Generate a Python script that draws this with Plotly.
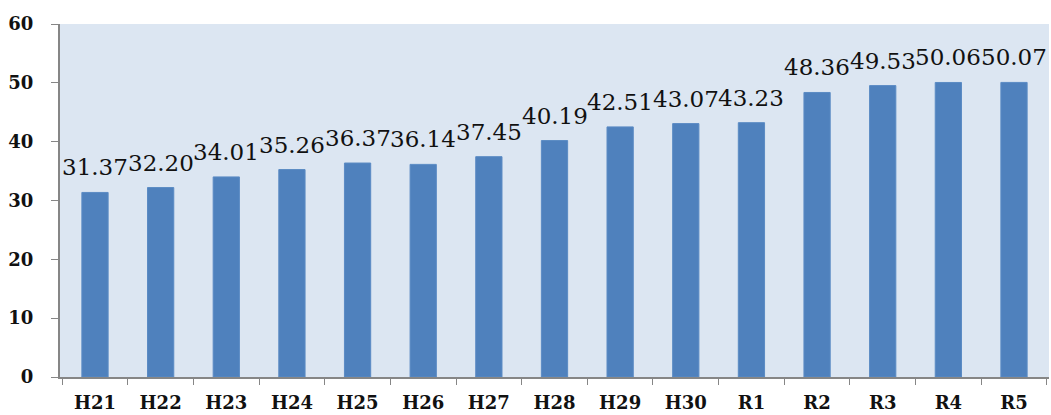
import plotly.graph_objects as go

years = ["H21", "H22", "H23", "H24", "H25", "H26", "H27", "H28", "H29", "H30",
         "R1", "R2", "R3", "R4", "R5"]
values = [31.37, 32.20, 34.01, 35.26, 36.37, 36.14, 37.45, 40.19, 42.51, 43.07,
          43.23, 48.36, 49.53, 50.06, 50.07]
labels = [f"{v:.2f}" for v in values]
y_ticks = [0, 10, 20, 30, 40, 50, 60]

serif = "DejaVu Serif, Liberation Serif, serif"

fig = go.Figure(go.Bar(
    x=years, y=values,
    marker=dict(color="#4f81bd", line=dict(color="#5b8bc4", width=1)),
    width=0.4,
))

# value labels sitting above each bar
for cat, val, lab in zip(years, values, labels):
    fig.add_annotation(
        x=cat, y=val, text=lab, showarrow=False,
        xanchor="center", yanchor="bottom", yshift=10,
        font=dict(family=serif, size=23, color="#111111"),
    )

fig.update_layout(
    width=1051, height=415,
    margin=dict(l=60, r=2, t=24, b=38),
    paper_bgcolor="white", plot_bgcolor="#dce6f2",
    showlegend=False,
    font=dict(family=serif, color="#111111"),
)
fig.update_xaxes(
    type="category", tickson="boundaries", ticks="outside", ticklen=6,
    tickcolor="#868686", showline=True, linecolor="#868686", linewidth=2,
    showgrid=False, ticklabelstandoff=8, automargin=False,
    tickfont=dict(family=serif, size=18, color="#111111", weight="bold"),
)
fig.update_yaxes(
    range=[0, 60], tickvals=y_ticks, ticks="outside", ticklen=7,
    tickcolor="#868686", showline=True, linecolor="#868686", linewidth=2,
    showgrid=False, zeroline=False, ticklabelstandoff=14, automargin=False,
    tickfont=dict(family=serif, size=18, color="#111111", weight="bold"),
)

fig.write_html("out.html")
